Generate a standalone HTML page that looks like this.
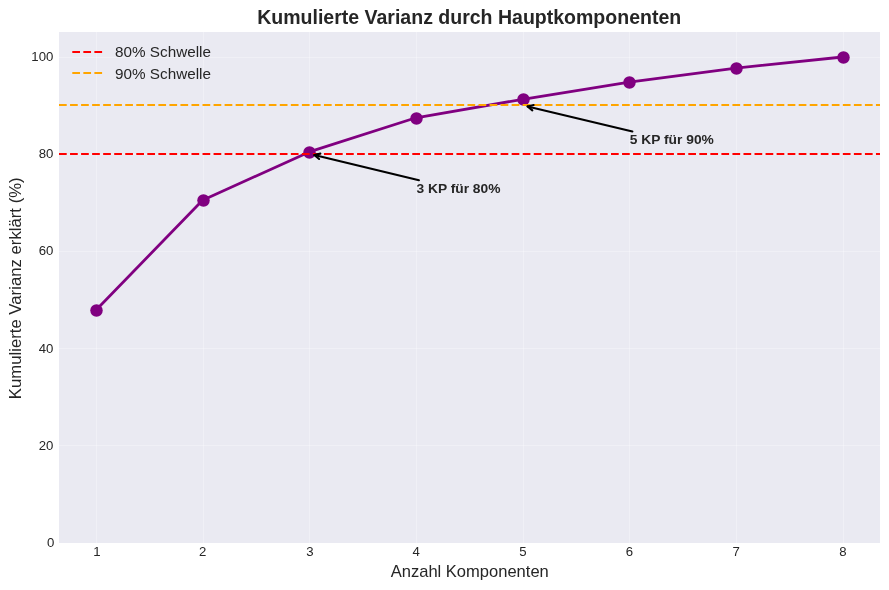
<!DOCTYPE html>
<html lang="de">
<head>
<meta charset="utf-8">
<title>Kumulierte Varianz durch Hauptkomponenten</title>
<style>
html,body{margin:0;padding:0;background:#fff;}
body{width:889px;height:590px;overflow:hidden;}
svg{display:block;}
svg text{font-family:"Liberation Sans",sans-serif;fill:#262626;}
</style>
</head>
<body>
<svg width="889" height="590" viewBox="0 0 889 590">
<rect x="0" y="0" width="889" height="590" fill="#ffffff"/>
<rect x="59" y="32.0" width="821" height="511.0" fill="#eaeaf2"/>
<g stroke="#ffffff" stroke-opacity="0.3" stroke-width="1.39" shape-rendering="crispEdges">
<line x1="96.5" y1="32.0" x2="96.5" y2="543.0"/>
<line x1="203.5" y1="32.0" x2="203.5" y2="543.0"/>
<line x1="309.5" y1="32.0" x2="309.5" y2="543.0"/>
<line x1="416.5" y1="32.0" x2="416.5" y2="543.0"/>
<line x1="523.5" y1="32.0" x2="523.5" y2="543.0"/>
<line x1="629.5" y1="32.0" x2="629.5" y2="543.0"/>
<line x1="736.5" y1="32.0" x2="736.5" y2="543.0"/>
<line x1="843.5" y1="32.0" x2="843.5" y2="543.0"/>
<line x1="59" y1="57.5" x2="880" y2="57.5"/>
<line x1="59" y1="154.5" x2="880" y2="154.5"/>
<line x1="59" y1="251.5" x2="880" y2="251.5"/>
<line x1="59" y1="348.5" x2="880" y2="348.5"/>
<line x1="59" y1="445.5" x2="880" y2="445.5"/>
</g>
<path d="M95.88 310.30 L202.56 200.20 L309.25 151.90 L415.93 117.80 L522.61 99.30 L629.29 82.10 L735.98 68.10 L842.66 57.00" fill="none" stroke="#800080" stroke-width="2.78" stroke-linejoin="round" stroke-linecap="butt"/>
<circle cx="96.50" cy="310.50" r="6.25" fill="#800080"/>
<circle cx="203.50" cy="200.50" r="6.25" fill="#800080"/>
<circle cx="309.50" cy="152.50" r="6.25" fill="#800080"/>
<circle cx="416.50" cy="118.50" r="6.25" fill="#800080"/>
<circle cx="523.50" cy="99.50" r="6.25" fill="#800080"/>
<circle cx="629.50" cy="82.50" r="6.25" fill="#800080"/>
<circle cx="736.50" cy="68.50" r="6.25" fill="#800080"/>
<circle cx="843.50" cy="57.50" r="6.25" fill="#800080"/>
<line x1="59" y1="154" x2="880" y2="154" stroke="#ff0000" stroke-width="2.08" stroke-dasharray="7.71 3.33" />
<line x1="59" y1="105" x2="880" y2="105" stroke="#ffa500" stroke-width="2.08" stroke-dasharray="7.71 3.33" />
<path d="M418.95 180.30 L314.35 155.00" fill="none" stroke="#000" stroke-width="2.08" stroke-linecap="round"/>
<path d="M320.39 153.61 L314.35 155.00 L319.09 159.00" fill="none" stroke="#000" stroke-width="2.08" stroke-linejoin="round" stroke-linecap="round"/>
<path d="M632.40 131.40 L527.60 106.40" fill="none" stroke="#000" stroke-width="2.08" stroke-linecap="round"/>
<path d="M533.64 104.99 L527.60 106.40 L532.35 110.38" fill="none" stroke="#000" stroke-width="2.08" stroke-linejoin="round" stroke-linecap="round"/>
<text transform="translate(416.43 193.09) scale(0.993 0.91)" font-size="13.89" font-weight="bold">3 KP für 80%</text>
<text transform="translate(629.79 144.47) scale(0.993 0.91)" font-size="13.89" font-weight="bold">5 KP für 90%</text>
<line x1="72.3" y1="52" x2="102.8" y2="52" stroke="#ff0000" stroke-width="2.08" stroke-dasharray="7.71 3.33"/>
<line x1="72.3" y1="73" x2="102.8" y2="73" stroke="#ffa500" stroke-width="2.08" stroke-dasharray="7.71 3.33"/>
<text x="115.07" y="57" font-size="15.28">80% Schwelle</text>
<text x="115.07" y="79" font-size="15.28">90% Schwelle</text>
<text x="469.2" y="24.2" font-size="19.523" font-weight="bold" text-anchor="middle">Kumulierte Varianz durch Hauptkomponenten</text>
<text x="469.75" y="577" font-size="16.54" text-anchor="middle">Anzahl Komponenten</text>
<text transform="translate(20.6 288.3) rotate(-90)" font-size="16.74" text-anchor="middle">Kumulierte Varianz erklärt (%)</text>
<text transform="translate(96.98 555.6) scale(0.95 0.87)" font-size="13.89" text-anchor="middle">1</text>
<text transform="translate(202.76 555.6) scale(0.95 0.87)" font-size="13.89" text-anchor="middle">2</text>
<text transform="translate(309.85 555.6) scale(0.95 0.87)" font-size="13.89" text-anchor="middle">3</text>
<text transform="translate(416.13 555.6) scale(0.95 0.87)" font-size="13.89" text-anchor="middle">4</text>
<text transform="translate(522.81 555.6) scale(0.95 0.87)" font-size="13.89" text-anchor="middle">5</text>
<text transform="translate(629.49 555.6) scale(0.95 0.87)" font-size="13.89" text-anchor="middle">6</text>
<text transform="translate(736.18 555.6) scale(0.95 0.87)" font-size="13.89" text-anchor="middle">7</text>
<text transform="translate(842.86 555.6) scale(0.95 0.87)" font-size="13.89" text-anchor="middle">8</text>
<text transform="translate(54.4 547.1) scale(0.95 0.87)" font-size="13.89" text-anchor="end">0</text>
<text transform="translate(53.3 450.1) scale(0.95 0.87)" font-size="13.89" text-anchor="end">20</text>
<text transform="translate(53.3 353.1) scale(0.95 0.87)" font-size="13.89" text-anchor="end">40</text>
<text transform="translate(53.3 255.1) scale(0.95 0.87)" font-size="13.89" text-anchor="end">60</text>
<text transform="translate(53.3 158.1) scale(0.95 0.87)" font-size="13.89" text-anchor="end">80</text>
<text transform="translate(53.3 61.1) scale(0.95 0.87)" font-size="13.89" text-anchor="end">100</text>
</svg>
</body>
</html>
